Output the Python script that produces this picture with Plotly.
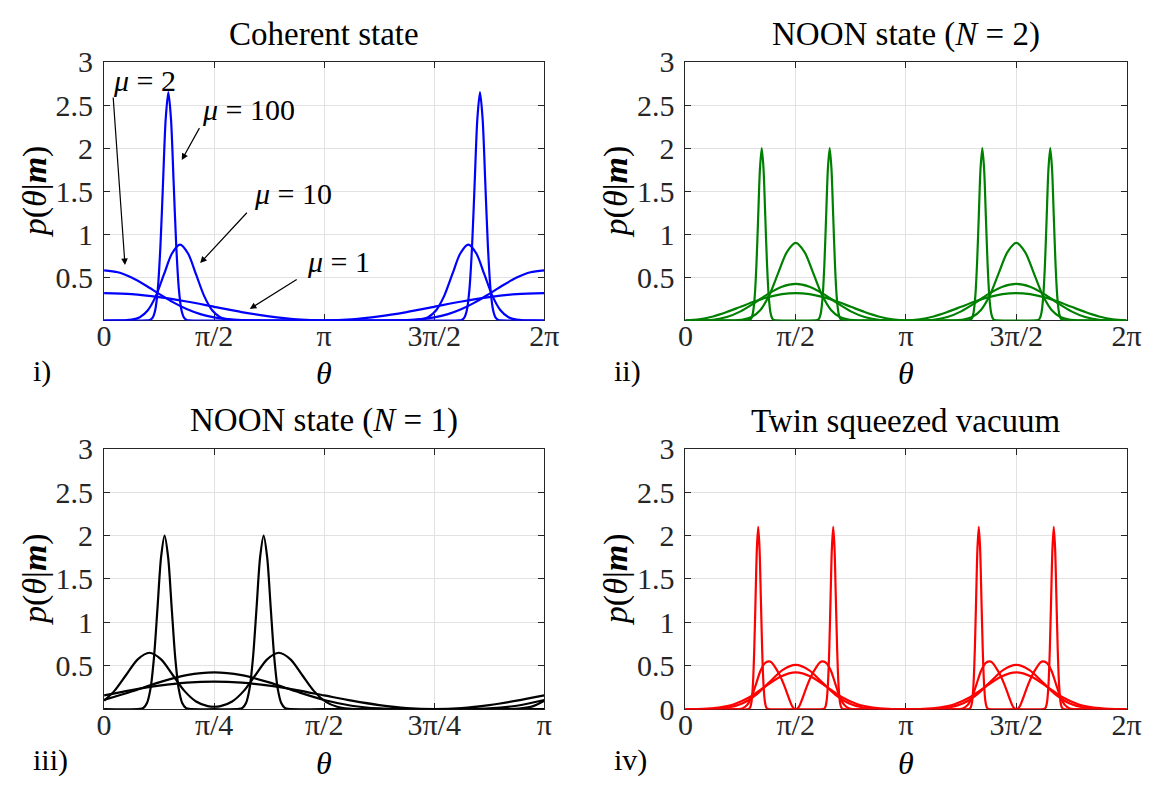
import plotly.graph_objects as go

# ---------------- data (x in units of pi) ----------------
# i) Coherent state
coh_mu1_x = [0, 0.125, 0.25, 0.375, 0.5, 0.625, 0.75, 0.875, 1.0, 1.125, 1.25, 1.375, 1.5, 1.625, 1.75, 1.875, 2.0]
coh_mu1_y = [0.318, 0.306, 0.271, 0.220, 0.159, 0.098, 0.047, 0.012, 0.0, 0.012, 0.047, 0.098, 0.159, 0.220, 0.271, 0.306, 0.318]

coh_mu2_x = [0, 0.0625, 0.125, 0.1875, 0.25, 0.3125, 0.375, 0.4375, 0.5, 0.5625, 0.625, 0.6875, 0.75, 1.0,
             1.25, 1.3125, 1.375, 1.4375, 1.5, 1.5625, 1.625, 1.6875, 1.75, 1.8125, 1.875, 1.9375, 2.0]
coh_mu2_y = [0.582, 0.560, 0.498, 0.409, 0.309, 0.213, 0.133, 0.074, 0.036, 0.015, 0.005, 0.001, 0.0, 0.0,
             0.0, 0.001, 0.005, 0.015, 0.036, 0.074, 0.133, 0.213, 0.309, 0.409, 0.498, 0.560, 0.582]

coh_mu10_x = [0, 0.053, 0.0895, 0.126, 0.1625, 0.199, 0.2355, 0.272, 0.3085, 0.345, 0.3815, 0.418, 0.4545, 0.491,
              0.5275, 0.564, 0.6005, 0.637, 1.0, 1.363, 1.3995, 1.436, 1.4725, 1.509, 1.5455, 1.582, 1.6185, 1.655,
              1.6915, 1.728, 1.7645, 1.801, 1.8375, 1.874, 1.9105, 1.947, 2.0]
coh_mu10_y = [0, 0.0003, 0.0019, 0.0098, 0.0386, 0.119, 0.286, 0.534, 0.777, 0.88, 0.777, 0.534, 0.286, 0.119,
              0.0386, 0.0098, 0.0019, 0.0003, 0, 0.0003, 0.0019, 0.0098, 0.0386, 0.119, 0.286, 0.534, 0.777, 0.88,
              0.777, 0.534, 0.286, 0.119, 0.0386, 0.0098, 0.0019, 0.0003, 0]

coh_mu100_x = [0, 0.196, 0.208, 0.220, 0.232, 0.244, 0.256, 0.268, 0.280, 0.292, 0.304, 0.316, 0.328, 0.340,
               0.352, 0.364, 0.376, 0.388, 1.0, 1.612, 1.624, 1.636, 1.648, 1.660, 1.672, 1.684, 1.696, 1.708,
               1.720, 1.732, 1.744, 1.756, 1.768, 1.780, 1.792, 1.804, 2.0]
coh_mu100_y = [0, 0.0009, 0.0058, 0.0294, 0.116, 0.359, 0.860, 1.607, 2.339, 2.65, 2.339, 1.607, 0.860, 0.359,
               0.116, 0.0294, 0.0058, 0.0009, 0, 0.0009, 0.0058, 0.0294, 0.116, 0.359, 0.860, 1.607, 2.339, 2.65,
               2.339, 1.607, 0.860, 0.359, 0.116, 0.0294, 0.0058, 0.0009, 0]

coh_labels = ["<i>μ</i> = 2", "<i>μ</i> = 100", "<i>μ</i> = 10", "<i>μ</i> = 1"]

# ii) NOON state N = 2
noon2_grid_x = [0, 0.0625, 0.125, 0.1875, 0.25, 0.3125, 0.375, 0.4375, 0.5, 0.5625, 0.625, 0.6875, 0.75, 0.8125,
                0.875, 0.9375, 1.0, 1.0625, 1.125, 1.1875, 1.25, 1.3125, 1.375, 1.4375, 1.5, 1.5625, 1.625,
                1.6875, 1.75, 1.8125, 1.875, 1.9375, 2.0]
noon2_a_y = [0, 0.012, 0.047, 0.098, 0.159, 0.220, 0.271, 0.306, 0.318, 0.306, 0.271, 0.220, 0.159, 0.098, 0.047,
             0.012, 0, 0.012, 0.047, 0.098, 0.159, 0.220, 0.271, 0.306, 0.318, 0.306, 0.271, 0.220, 0.159, 0.098,
             0.047, 0.012, 0]
noon2_b_y = [0, 0.001, 0.009, 0.040, 0.106, 0.203, 0.309, 0.392, 0.424, 0.392, 0.309, 0.203, 0.106, 0.040, 0.009,
             0.001, 0, 0.001, 0.009, 0.040, 0.106, 0.203, 0.309, 0.392, 0.424, 0.392, 0.309, 0.203, 0.106, 0.040,
             0.009, 0.001, 0]
noon2_c_x = [0, 0.18, 0.22, 0.26, 0.30, 0.34, 0.38, 0.42, 0.46, 0.50, 0.54, 0.58, 0.62, 0.66, 0.70, 0.74, 0.78,
             0.82, 1.0, 1.18, 1.22, 1.26, 1.30, 1.34, 1.38, 1.42, 1.46, 1.50, 1.54, 1.58, 1.62, 1.66, 1.70, 1.74,
             1.78, 1.82, 2.0]
noon2_c_y = [0, 0.0003, 0.002, 0.010, 0.040, 0.122, 0.292, 0.546, 0.794, 0.90, 0.794, 0.546, 0.292, 0.122, 0.040,
             0.010, 0.002, 0.0003, 0, 0.0003, 0.002, 0.010, 0.040, 0.122, 0.292, 0.546, 0.794, 0.90, 0.794, 0.546,
             0.292, 0.122, 0.040, 0.010, 0.002, 0.0003, 0]
noon2_d_x = [0,
             0.282, 0.290, 0.298, 0.306, 0.314, 0.322, 0.330, 0.338, 0.346, 0.354, 0.362, 0.370, 0.378, 0.386, 0.394, 0.402, 0.410,
             0.50,
             0.590, 0.598, 0.606, 0.614, 0.622, 0.630, 0.638, 0.646, 0.654, 0.662, 0.670, 0.678, 0.686, 0.694, 0.702, 0.710, 0.718,
             1.0,
             1.282, 1.290, 1.298, 1.306, 1.314, 1.322, 1.330, 1.338, 1.346, 1.354, 1.362, 1.370, 1.378, 1.386, 1.394, 1.402, 1.410,
             1.50,
             1.590, 1.598, 1.606, 1.614, 1.622, 1.630, 1.638, 1.646, 1.654, 1.662, 1.670, 1.678, 1.686, 1.694, 1.702, 1.710, 1.718,
             2.0]
noon2_d_y = [0,
             0.0007, 0.0044, 0.0222, 0.0879, 0.271, 0.649, 1.213, 1.765, 2.0, 1.765, 1.213, 0.649, 0.271, 0.0879, 0.0222, 0.0044, 0.0007,
             0,
             0.0007, 0.0044, 0.0222, 0.0879, 0.271, 0.649, 1.213, 1.765, 2.0, 1.765, 1.213, 0.649, 0.271, 0.0879, 0.0222, 0.0044, 0.0007,
             0,
             0.0007, 0.0044, 0.0222, 0.0879, 0.271, 0.649, 1.213, 1.765, 2.0, 1.765, 1.213, 0.649, 0.271, 0.0879, 0.0222, 0.0044, 0.0007,
             0,
             0.0007, 0.0044, 0.0222, 0.0879, 0.271, 0.649, 1.213, 1.765, 2.0, 1.765, 1.213, 0.649, 0.271, 0.0879, 0.0222, 0.0044, 0.0007,
             0]

# iii) NOON state N = 1 (x from 0 to pi)
noon1_grid_x = [0, 0.0625, 0.125, 0.1875, 0.25, 0.3125, 0.375, 0.4375, 0.5, 0.5625, 0.625, 0.6875, 0.75, 0.8125,
                0.875, 0.9375, 1.0]
noon1_h_y = [0.159, 0.220, 0.271, 0.306, 0.318, 0.306, 0.271, 0.220, 0.159, 0.098, 0.047, 0.012, 0, 0.012, 0.047,
             0.098, 0.159]
noon1_g_y = [0.106, 0.203, 0.309, 0.392, 0.424, 0.392, 0.309, 0.203, 0.106, 0.040, 0.009, 0.001, 0, 0.001, 0.009,
             0.040, 0.106]
noon1_f_x = [0, 0.0235, 0.05, 0.0765, 0.103, 0.1295, 0.156, 0.1825, 0.209, 0.2355, 0.25, 0.2645, 0.291, 0.3175,
             0.344, 0.3705, 0.397, 0.4235, 0.45, 0.4765, 0.503, 0.5295, 0.556, 0.5825, 0.65, 0.85, 0.92, 0.947,
             0.9735, 1.0]
noon1_f_y = [0.098, 0.211, 0.394, 0.574, 0.65, 0.574, 0.394, 0.211, 0.089, 0.035, 0.028, 0.035, 0.089, 0.211,
             0.394, 0.574, 0.65, 0.574, 0.394, 0.211, 0.088, 0.0285, 0.0072, 0.0014, 0, 0, 0.0017, 0.0086, 0.033,
             0.098]
noon1_e_x = [0, 0.0815, 0.0895, 0.0975, 0.1055, 0.1135, 0.1215, 0.1295, 0.1375, 0.1455, 0.1535, 0.1615, 0.1695,
             0.1775, 0.1855, 0.1935, 0.25, 0.3065, 0.3145, 0.3225, 0.3305, 0.3385, 0.3465, 0.3545, 0.3625, 0.3705,
             0.3785, 0.3865, 0.3945, 0.4025, 0.4105, 0.4185, 0.5, 1.0]
noon1_e_y = [0, 0.0029, 0.0165, 0.0716, 0.237, 0.603, 1.174, 1.751, 2.0, 1.751, 1.174, 0.603, 0.237, 0.0716,
             0.0165, 0.0029, 0, 0.0029, 0.0165, 0.0716, 0.237, 0.603, 1.174, 1.751, 2.0, 1.751, 1.174, 0.603, 0.237,
             0.0716, 0.0165, 0.0029, 0, 0]

# iv) Twin squeezed vacuum
tsv_j_x = [0,
           0.288, 0.294, 0.300, 0.306, 0.312, 0.318, 0.324, 0.330, 0.336, 0.342, 0.348, 0.354, 0.360, 0.366, 0.372,
           0.5,
           0.628, 0.634, 0.640, 0.646, 0.652, 0.658, 0.664, 0.670, 0.676, 0.682, 0.688, 0.694, 0.700, 0.706, 0.712,
           1.0,
           1.288, 1.294, 1.300, 1.306, 1.312, 1.318, 1.324, 1.330, 1.336, 1.342, 1.348, 1.354, 1.360, 1.366, 1.372,
           1.5,
           1.628, 1.634, 1.640, 1.646, 1.652, 1.658, 1.664, 1.670, 1.676, 1.682, 1.688, 1.694, 1.700, 1.706, 1.712,
           2.0]
tsv_j_y = [0,
           0.0046, 0.0233, 0.092, 0.284, 0.682, 1.274, 1.853, 2.1, 1.853, 1.274, 0.682, 0.284, 0.092, 0.0233, 0.0046,
           0,
           0.0046, 0.0233, 0.092, 0.284, 0.682, 1.274, 1.853, 2.1, 1.853, 1.274, 0.682, 0.284, 0.092, 0.0233, 0.0046,
           0,
           0.0046, 0.0233, 0.092, 0.284, 0.682, 1.274, 1.853, 2.1, 1.853, 1.274, 0.682, 0.284, 0.092, 0.0233, 0.0046,
           0,
           0.0046, 0.0233, 0.092, 0.284, 0.682, 1.274, 1.853, 2.1, 1.853, 1.274, 0.682, 0.284, 0.092, 0.0233, 0.0046,
           0]
tsv_k_x = [0,
           0.22, 0.24, 0.26, 0.28, 0.30, 0.32, 0.34, 0.36, 0.378, 0.39, 0.41, 0.43, 0.45, 0.47, 0.485, 0.5,
           0.515, 0.53, 0.55, 0.57, 0.59, 0.61, 0.622, 0.64, 0.66, 0.68, 0.70, 0.72, 0.74, 0.76, 0.78,
           1.0,
           1.22, 1.24, 1.26, 1.28, 1.30, 1.32, 1.34, 1.36, 1.378, 1.39, 1.41, 1.43, 1.45, 1.47, 1.485, 1.5,
           1.515, 1.53, 1.55, 1.57, 1.59, 1.61, 1.622, 1.64, 1.66, 1.68, 1.70, 1.72, 1.74, 1.76, 1.78,
           2.0]
tsv_k_y = [0,
           0, 0.002, 0.012, 0.05, 0.14, 0.29, 0.44, 0.53, 0.55, 0.54, 0.47, 0.38, 0.26, 0.12, 0.03, 0,
           0.03, 0.12, 0.26, 0.38, 0.47, 0.54, 0.55, 0.53, 0.44, 0.29, 0.14, 0.05, 0.012, 0.002, 0,
           0,
           0, 0.002, 0.012, 0.05, 0.14, 0.29, 0.44, 0.53, 0.55, 0.54, 0.47, 0.38, 0.26, 0.12, 0.03, 0,
           0.03, 0.12, 0.26, 0.38, 0.47, 0.54, 0.55, 0.53, 0.44, 0.29, 0.14, 0.05, 0.012, 0.002, 0,
           0]
tsv_l_x = [0, 0.08, 0.14, 0.20, 0.26, 0.32, 0.38, 0.44, 0.50, 0.56, 0.62, 0.68, 0.74, 0.80, 0.86, 0.92, 1.0,
           1.08, 1.14, 1.20, 1.26, 1.32, 1.38, 1.44, 1.50, 1.56, 1.62, 1.68, 1.74, 1.80, 1.86, 1.92, 2.0]
tsv_l_y = [0, 0.0011, 0.0057, 0.0224, 0.069, 0.166, 0.309, 0.450, 0.51, 0.450, 0.309, 0.166, 0.069, 0.0224,
           0.0057, 0.0011, 0, 0.0011, 0.0057, 0.0224, 0.069, 0.166, 0.309, 0.450, 0.51, 0.450, 0.309, 0.166,
           0.069, 0.0224, 0.0057, 0.0011, 0]
tsv_m_x = [0, 0.08, 0.15, 0.22, 0.29, 0.36, 0.43, 0.50, 0.57, 0.64, 0.71, 0.78, 0.85, 0.92, 1.0,
           1.08, 1.15, 1.22, 1.29, 1.36, 1.43, 1.50, 1.57, 1.64, 1.71, 1.78, 1.85, 1.92, 2.0]
tsv_m_y = [0.0007, 0.0047, 0.0186, 0.0574, 0.138, 0.257, 0.374, 0.424, 0.374, 0.257, 0.138, 0.0574, 0.0186,
           0.0047, 0.0014, 0.0047, 0.0186, 0.0574, 0.138, 0.257, 0.374, 0.424, 0.374, 0.257, 0.138, 0.0574,
           0.0186, 0.0047, 0.0007]

# tick labels
ticks_2pi_vals = [0, 0.5, 1, 1.5, 2]
ticks_2pi_text = ["0", "π/2", "π", "3π/2", "2π"]
ticks_pi_vals = [0, 0.25, 0.5, 0.75, 1]
ticks_pi_text = ["0", "π/4", "π/2", "3π/4", "π"]
y_vals_nozero = [0.5, 1, 1.5, 2, 2.5, 3]
y_text_nozero = ["0.5", "1", "1.5", "2", "2.5", "3"]
y_vals_zero = [0, 0.5, 1, 1.5, 2, 2.5, 3]
y_text_zero = ["0", "0.5", "1", "1.5", "2", "2.5", "3"]

titles = ["Coherent state", "NOON state (<i>N</i> = 2)", "NOON state (<i>N</i> = 1)", "Twin squeezed vacuum"]
panel_tags = ["i)", "ii)", "iii)", "iv)"]

# ---------------- figure ----------------
FONT = "Liberation Serif"
BLUE, GREEN, BLACK, RED = "#0000ff", "#008000", "#000000", "#ff0000"
LW = 2.2

fig = go.Figure()

def add(x, y, color, xa, ya):
    fig.add_trace(go.Scatter(x=x, y=y, mode="lines", line=dict(color=color, width=LW, shape="spline", smoothing=0.8),
                             xaxis=xa, yaxis=ya, showlegend=False, hoverinfo="skip"))

add(coh_mu1_x, coh_mu1_y, BLUE, "x", "y")
add(coh_mu2_x, coh_mu2_y, BLUE, "x", "y")
add(coh_mu10_x, coh_mu10_y, BLUE, "x", "y")
add(coh_mu100_x, coh_mu100_y, BLUE, "x", "y")

add(noon2_grid_x, noon2_a_y, GREEN, "x2", "y2")
add(noon2_grid_x, noon2_b_y, GREEN, "x2", "y2")
add(noon2_c_x, noon2_c_y, GREEN, "x2", "y2")
add(noon2_d_x, noon2_d_y, GREEN, "x2", "y2")

add(noon1_grid_x, noon1_h_y, BLACK, "x3", "y3")
add(noon1_grid_x, noon1_g_y, BLACK, "x3", "y3")
add(noon1_f_x, noon1_f_y, BLACK, "x3", "y3")
add(noon1_e_x, noon1_e_y, BLACK, "x3", "y3")

add(tsv_l_x, tsv_l_y, RED, "x4", "y4")
add(tsv_m_x, tsv_m_y, RED, "x4", "y4")
add(tsv_k_x, tsv_k_y, RED, "x4", "y4")
add(tsv_j_x, tsv_j_y, RED, "x4", "y4")

W, H = 1170, 798
def dom_x(a, b):
    return [a / W, b / W]
def dom_y(top, bottom):
    return [1 - bottom / H, 1 - top / H]

AX = "#262626"
common = dict(showline=True, linecolor=AX, linewidth=1, mirror="ticks", ticks="inside", ticklen=6, tickwidth=1,
              tickcolor=AX, showgrid=True, gridcolor="#e2e2e2", gridwidth=1, zeroline=False,
              tickfont=dict(family=FONT, size=30, color=AX), layer="below traces", fixedrange=True)

LEFT_X = dom_x(98, 547)
RIGHT_X = dom_x(691, 1141)
TOP_Y = dom_y(47, 317)
BOT_Y = dom_y(451, 723)

XS = -11
YS = 4
fig.update_layout(
    width=W, height=H, margin=dict(l=0, r=0, t=0, b=0),
    paper_bgcolor="white", plot_bgcolor="white",
    font=dict(family=FONT, color="#000000"),
    xaxis=dict(domain=LEFT_X, anchor="y", range=[0, 2], tickvals=ticks_2pi_vals, ticktext=ticks_2pi_text, ticklabelstandoff=XS, **common),
    yaxis=dict(domain=TOP_Y, anchor="x", range=[0, 3], tickvals=y_vals_nozero, ticktext=y_text_nozero, ticklabelstandoff=YS, **common),
    xaxis2=dict(domain=RIGHT_X, anchor="y2", range=[0, 2], tickvals=ticks_2pi_vals, ticktext=ticks_2pi_text, ticklabelstandoff=XS, **common),
    yaxis2=dict(domain=TOP_Y, anchor="x2", range=[0, 3], tickvals=y_vals_nozero, ticktext=y_text_nozero, ticklabelstandoff=YS, **common),
    xaxis3=dict(domain=LEFT_X, anchor="y3", range=[0, 1], tickvals=ticks_pi_vals, ticktext=ticks_pi_text, ticklabelstandoff=XS, **common),
    yaxis3=dict(domain=BOT_Y, anchor="x3", range=[0, 3], tickvals=y_vals_nozero, ticktext=y_text_nozero, ticklabelstandoff=YS, **common),
    xaxis4=dict(domain=RIGHT_X, anchor="y4", range=[0, 2], tickvals=ticks_2pi_vals, ticktext=ticks_2pi_text, ticklabelstandoff=XS, **common),
    yaxis4=dict(domain=BOT_Y, anchor="x4", range=[0, 3], tickvals=y_vals_zero, ticktext=y_text_zero, ticklabelstandoff=YS, **common),
)

anns = []
axis_pairs = [("x", "y"), ("x2", "y2"), ("x3", "y3"), ("x4", "y4")]
for (xa, ya), title, tag in zip(axis_pairs, titles, panel_tags):
    xd, yd = xa + " domain", ya + " domain"
    anns.append(dict(xref=xd, yref=yd, x=0.5, y=1.108, text=title, showarrow=False, xanchor="center", yanchor="middle",
                     font=dict(family=FONT, size=33, color="#000000")))
    anns.append(dict(xref=xd, yref=yd, x=-0.157, y=0.5, text="<i>p</i>(<i>θ</i>|<b><i>m</i></b>)", textangle=-90,
                     showarrow=False, xanchor="center", yanchor="middle", font=dict(family=FONT, size=34, color="#000000")))
    anns.append(dict(xref=xd, yref=yd, x=0.5, y=-0.205, text="<i>θ</i>", showarrow=False, xanchor="center",
                     yanchor="middle", font=dict(family=FONT, size=32, color="#000000")))
    anns.append(dict(xref=xd, yref=yd, x=-0.166, y=-0.195, text=tag, showarrow=False, xanchor="left",
                     yanchor="middle", font=dict(family=FONT, size=30, color="#000000")))

# arrows for panel i): (head_x, head_y, tail_x, tail_y)
coh_arrows = [(0.095, 0.643, 0.041, 2.605), (0.353, 1.862, 0.437, 2.25),
              (0.4365, 0.666, 0.655, 1.268), (0.662, 0.134, 0.882, 0.487)]
coh_label_pos = [(0.183, 2.78), (0.658, 2.447), (0.859, 1.47), (1.067, 0.69)]
for (hx, hy, tx, ty) in coh_arrows:
    anns.append(dict(xref="x", yref="y", axref="x", ayref="y", x=hx, y=hy, ax=tx, ay=ty, text="", showarrow=True,
                     arrowhead=2, arrowsize=1.1, arrowwidth=1.2, arrowcolor="#000000"))
for (lx, ly), lab in zip(coh_label_pos, coh_labels):
    anns.append(dict(xref="x", yref="y", x=lx, y=ly, text=lab, showarrow=False, xanchor="center", yanchor="middle",
                     font=dict(family=FONT, size=30, color="#000000")))

fig.update_layout(annotations=anns)
fig.write_html("out.html")
